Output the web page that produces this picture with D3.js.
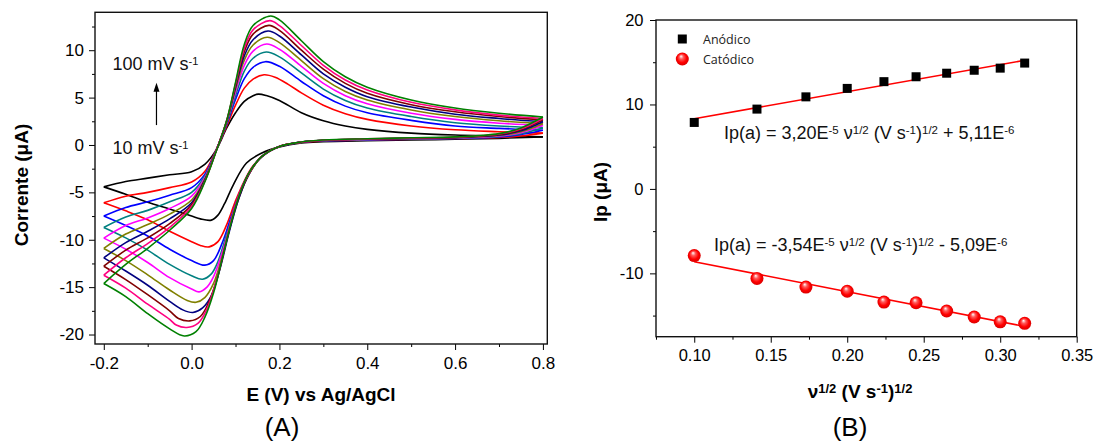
<!DOCTYPE html>
<html><head><meta charset="utf-8">
<script src="https://cdn.jsdelivr.net/npm/d3@7"></script>
<style>
html,body{margin:0;padding:0;background:#fff;}
svg{display:block;font-family:"Liberation Sans",Arial,sans-serif;}
text{white-space:pre;}
</style></head>
<body><svg id="c" width="1095" height="446"></svg>
<script>
// ---------- Panel A: cyclic voltammograms (E in V, I in µA) ----------
const scanRates = [10, 20, 30, 40, 50, 60, 70, 80, 90, 100];
const cvColors = ["#000000","#ff0000","#0000ff","#008080","#ff00ff","#808000","#000080","#800000","#ff0080","#008000"];

const cv10Fwd = [[-0.2,-4.42],[-0.15,-3.85],[-0.1,-3.5],[-0.05,-3.15],[0,-2.83],[0.03,-2.05],[0.055,-0.6],[0.08,1.8],[0.1,3.4],[0.12,4.6],[0.14,5.2],[0.152,5.37],[0.17,5.22],[0.2,4.7],[0.25,3.4],[0.3,2.55],[0.35,2.0],[0.4,1.65],[0.5,1.25],[0.6,1.05],[0.7,0.95],[0.8,0.85]];
const cv10Rev = [[0.8,0.85],[0.7,0.7],[0.6,0.6],[0.5,0.52],[0.4,0.45],[0.3,0.35],[0.25,0.22],[0.2,-0.2],[0.16,-0.85],[0.125,-1.9],[0.095,-4.2],[0.075,-6.2],[0.06,-7.4],[0.045,-7.93],[0.02,-7.8],[0,-7.5],[-0.05,-6.75],[-0.1,-6.05],[-0.15,-5.2],[-0.2,-4.42]];
const cv20Fwd = [[-0.2,-6.1],[-0.15,-5.4],[-0.1,-5.0],[-0.05,-4.5],[0,-3.9],[0.03,-2.8],[0.055,-0.6],[0.08,2.0],[0.1,4.2],[0.12,6.0],[0.14,6.95],[0.165,7.41],[0.19,7.15],[0.22,6.4],[0.25,5.5],[0.3,4.2],[0.35,3.3],[0.4,2.7],[0.5,2.0],[0.6,1.6],[0.7,1.4],[0.8,1.25]];
const cv20Rev = [[0.8,1.25],[0.75,0.95],[0.7,0.8],[0.6,0.68],[0.5,0.6],[0.4,0.52],[0.3,0.42],[0.25,0.28],[0.2,-0.15],[0.17,-0.85],[0.14,-2.2],[0.12,-3.8],[0.1,-5.9],[0.08,-8.4],[0.06,-10.2],[0.04,-10.75],[0.02,-10.6],[0,-10.2],[-0.05,-9.1],[-0.1,-7.9],[-0.15,-6.95],[-0.2,-6.1]];
const cv30Fwd = [[-0.2,-7.5],[-0.15,-6.6],[-0.1,-6.0],[-0.05,-5.3],[0,-4.5],[0.03,-3.1],[0.055,-0.65],[0.08,2.2],[0.1,4.8],[0.12,7.0],[0.14,8.2],[0.168,8.79],[0.2,8.3],[0.25,6.7],[0.3,5.2],[0.35,4.1],[0.4,3.4],[0.5,2.6],[0.6,2.0],[0.7,1.75],[0.8,1.55]];
const cv30Rev = [[0.8,1.55],[0.75,1.1],[0.7,0.85],[0.6,0.7],[0.5,0.62],[0.4,0.54],[0.3,0.44],[0.25,0.3],[0.2,-0.15],[0.16,-1.2],[0.13,-3.0],[0.11,-5.0],[0.09,-7.6],[0.07,-10.3],[0.05,-12.2],[0.03,-12.68],[0,-12.2],[-0.05,-11.0],[-0.1,-9.6],[-0.15,-8.5],[-0.2,-7.5]];
const cv40Fwd = [[-0.2,-8.7],[-0.15,-7.6],[-0.1,-6.9],[-0.05,-6.0],[0,-5.0],[0.03,-3.3],[0.055,-0.65],[0.08,2.3],[0.1,5.2],[0.12,7.8],[0.14,9.15],[0.17,9.81],[0.2,9.3],[0.25,7.6],[0.3,5.9],[0.35,4.7],[0.4,3.9],[0.5,3.0],[0.6,2.35],[0.7,2.0],[0.8,1.8]];
const cv40Rev = [[0.8,1.8],[0.75,1.2],[0.7,0.9],[0.6,0.72],[0.5,0.64],[0.4,0.56],[0.3,0.46],[0.25,0.3],[0.2,-0.15],[0.16,-1.2],[0.14,-2.3],[0.12,-4.0],[0.1,-6.4],[0.08,-9.4],[0.06,-12.3],[0.045,-13.6],[0.025,-14.16],[0,-13.8],[-0.05,-12.6],[-0.1,-11.1],[-0.15,-9.8],[-0.2,-8.7]];
const cv50Fwd = [[-0.2,-9.83],[-0.15,-8.5],[-0.1,-7.7],[-0.05,-6.7],[0,-5.4],[0.03,-3.45],[0.055,-0.7],[0.08,2.4],[0.1,5.6],[0.12,8.4],[0.14,9.9],[0.171,10.65],[0.2,10.1],[0.25,8.3],[0.3,6.5],[0.35,5.2],[0.4,4.35],[0.5,3.35],[0.6,2.7],[0.7,2.3],[0.8,2.05]];
const cv50Rev = [[0.8,2.05],[0.75,1.3],[0.7,0.95],[0.6,0.74],[0.5,0.66],[0.4,0.58],[0.3,0.47],[0.25,0.3],[0.2,-0.15],[0.16,-1.2],[0.13,-3.1],[0.11,-5.2],[0.09,-8.1],[0.07,-11.3],[0.05,-13.9],[0.035,-15.0],[0.017,-15.5],[0,-15.2],[-0.05,-14.0],[-0.1,-12.4],[-0.15,-11.0],[-0.2,-9.83]];
const cv60Fwd = [[-0.2,-10.92],[-0.15,-9.4],[-0.1,-8.4],[-0.05,-7.3],[0,-5.8],[0.03,-3.6],[0.055,-0.7],[0.08,2.45],[0.1,5.9],[0.12,8.95],[0.14,10.55],[0.172,11.36],[0.2,10.8],[0.25,8.9],[0.3,7.0],[0.35,5.65],[0.4,4.75],[0.5,3.7],[0.6,3.0],[0.7,2.55],[0.8,2.25]];
const cv60Rev = [[0.8,2.25],[0.75,1.4],[0.7,1.0],[0.6,0.76],[0.5,0.68],[0.4,0.6],[0.3,0.48],[0.25,0.3],[0.2,-0.15],[0.16,-1.2],[0.13,-3.15],[0.11,-5.3],[0.09,-8.3],[0.07,-11.7],[0.05,-14.6],[0.03,-16.1],[0.01,-16.6],[-0.01,-16.4],[-0.05,-15.3],[-0.1,-13.7],[-0.15,-12.2],[-0.2,-10.92]];
const cv70Fwd = [[-0.2,-11.91],[-0.15,-10.3],[-0.1,-9.1],[-0.05,-7.8],[0,-6.1],[0.03,-3.7],[0.055,-0.7],[0.08,2.5],[0.1,6.1],[0.12,9.4],[0.14,11.1],[0.174,12.02],[0.2,11.5],[0.25,9.5],[0.3,7.5],[0.35,6.1],[0.4,5.1],[0.5,4.0],[0.6,3.25],[0.7,2.8],[0.8,2.45]];
const cv70Rev = [[0.8,2.45],[0.75,1.5],[0.7,1.05],[0.6,0.78],[0.5,0.7],[0.4,0.62],[0.3,0.49],[0.25,0.3],[0.2,-0.15],[0.18,-0.6],[0.15,-1.7],[0.125,-3.6],[0.105,-6.0],[0.085,-9.3],[0.065,-13.0],[0.045,-15.9],[0.025,-17.2],[0.003,-17.68],[-0.02,-17.4],[-0.05,-16.5],[-0.1,-14.8],[-0.15,-13.3],[-0.2,-11.91]];
const cv80Fwd = [[-0.2,-12.79],[-0.15,-11.1],[-0.1,-9.8],[-0.05,-8.3],[0,-6.3],[0.03,-3.8],[0.055,-0.75],[0.08,2.55],[0.1,6.3],[0.12,9.85],[0.14,11.7],[0.176,12.62],[0.2,12.1],[0.25,10.0],[0.3,8.0],[0.35,6.5],[0.4,5.45],[0.5,4.25],[0.6,3.5],[0.7,3.0],[0.8,2.65]];
const cv80Rev = [[0.8,2.65],[0.75,1.6],[0.7,1.1],[0.6,0.8],[0.5,0.72],[0.4,0.63],[0.3,0.5],[0.25,0.3],[0.2,-0.15],[0.16,-1.2],[0.14,-2.3],[0.12,-4.0],[0.1,-6.5],[0.08,-10.0],[0.06,-13.8],[0.04,-16.5],[0.02,-18.1],[-0.004,-18.56],[-0.03,-18.3],[-0.05,-17.5],[-0.1,-15.8],[-0.15,-14.2],[-0.2,-12.79]];
const cv90Fwd = [[-0.2,-13.74],[-0.15,-11.9],[-0.1,-10.4],[-0.05,-8.7],[0,-6.5],[0.03,-3.85],[0.055,-0.75],[0.08,2.6],[0.1,6.45],[0.12,10.2],[0.14,12.15],[0.178,13.12],[0.2,12.6],[0.25,10.5],[0.3,8.4],[0.35,6.85],[0.4,5.8],[0.5,4.5],[0.6,3.7],[0.7,3.15],[0.8,2.8]];
const cv90Rev = [[0.8,2.8],[0.75,1.7],[0.7,1.15],[0.6,0.82],[0.5,0.74],[0.4,0.64],[0.3,0.5],[0.25,0.3],[0.2,-0.15],[0.16,-1.2],[0.14,-2.3],[0.115,-4.4],[0.095,-7.1],[0.075,-10.8],[0.055,-14.5],[0.035,-17.3],[0.015,-18.8],[-0.011,-19.26],[-0.035,-19.0],[-0.05,-18.4],[-0.1,-16.8],[-0.15,-15.1],[-0.2,-13.74]];
const cv100Fwd = [[-0.2,-14.62],[-0.15,-12.6],[-0.1,-10.9],[-0.05,-9.0],[0,-6.7],[0.03,-3.9],[0.055,-0.8],[0.08,2.6],[0.1,6.6],[0.12,10.6],[0.14,12.6],[0.18,13.61],[0.2,13.2],[0.25,11.0],[0.3,8.8],[0.35,7.2],[0.4,6.1],[0.5,4.75],[0.6,3.9],[0.7,3.35],[0.8,2.95]];
const cv100Rev = [[0.8,2.95],[0.75,1.8],[0.7,1.2],[0.6,0.85],[0.5,0.76],[0.4,0.66],[0.3,0.52],[0.25,0.32],[0.2,-0.15],[0.16,-1.2],[0.13,-3.0],[0.11,-5.1],[0.09,-8.2],[0.07,-11.9],[0.05,-15.6],[0.03,-18.2],[0.01,-19.7],[-0.017,-20.15],[-0.05,-19.4],[-0.1,-17.8],[-0.15,-16.0],[-0.2,-14.62]];

const cvForward = [cv10Fwd,cv20Fwd,cv30Fwd,cv40Fwd,cv50Fwd,cv60Fwd,cv70Fwd,cv80Fwd,cv90Fwd,cv100Fwd];
const cvReverse = [cv10Rev,cv20Rev,cv30Rev,cv40Rev,cv50Rev,cv60Rev,cv70Rev,cv80Rev,cv90Rev,cv100Rev];

const xTicksA = [-0.2, 0.0, 0.2, 0.4, 0.6, 0.8];
const xMinorA = [-0.1, 0.1, 0.3, 0.5, 0.7];
const yTicksA = [-20, -15, -10, -5, 0, 5, 10];
const yMinorA = [-17.5, -12.5, -7.5, -2.5, 2.5, 7.5, 12.5];

// ---------- Panel B: peak current vs sqrt(scan rate) ----------
const sqrtV = [0.100, 0.141, 0.173, 0.200, 0.224, 0.245, 0.265, 0.283, 0.300, 0.316];
const ipAnodic = [7.87, 9.45, 10.9, 11.9, 12.7, 13.28, 13.7, 14.05, 14.3, 14.9];
const ipCathodic = [-7.9, -10.6, -11.62, -12.12, -13.4, -13.48, -14.46, -15.17, -15.74, -15.92];
const fitAnodic = [[0.100, 8.31], [0.316, 15.23]];
const fitCathodic = [[0.100, -8.63], [0.316, -16.28]];
const xTicksB = [0.10, 0.15, 0.20, 0.25, 0.30, 0.35];
const xMinorB = [0.075, 0.125, 0.175, 0.225, 0.275, 0.325];
const yTicksB = [-10, 0, 10, 20];
const yMinorB = [-15, -5, 5, 15];
const legendLabels = ["Anódico", "Catódico"];

// ---------- drawing ----------
const svg = d3.select("#c");
const FONT = "'Liberation Sans', Arial, sans-serif";

const defs = svg.append("defs");
const grad = defs.append("radialGradient").attr("id","ball").attr("cx","50%").attr("cy","50%").attr("r","55%").attr("fx","40%").attr("fy","28%");
grad.append("stop").attr("offset","0%").attr("stop-color","#ffffff");
grad.append("stop").attr("offset","30%").attr("stop-color","#ff5a5a");
grad.append("stop").attr("offset","65%").attr("stop-color","#ff0000");
grad.append("stop").attr("offset","100%").attr("stop-color","#d00000");

function rich(t, parts, supSize) {
  let up = false;
  parts.forEach(([s, sup]) => {
    const ts = t.append("tspan").text(s);
    if (sup && !up) { ts.attr("font-size", supSize).attr("dy", "-0.42em"); up = true; }
    else if (sup && up) { ts.attr("font-size", supSize); }
    else if (!sup && up) { ts.attr("dy", (0.42*supSize) + "px"); up = false; }
  });
}

function styleAxis(g, fs) {
  g.select(".domain").remove();
  g.selectAll("line").attr("stroke", "#000").attr("stroke-width", 1);
  g.selectAll("text").attr("font-family", FONT).attr("font-size", fs).attr("fill", "#000");
}

// Panel A
const xA = d3.scaleLinear().domain([-0.22, 0.81]).range([95, 547.3]);
const yA = d3.scaleLinear().domain([-21, 14]).range([344, 12.3]);

const gA = svg.append("g");
const clipA = defs.append("clipPath").attr("id","clipA").append("rect")
  .attr("x", xA.range()[0]).attr("y", yA.range()[1]).attr("width", xA.range()[1]-xA.range()[0]).attr("height", yA.range()[0]-yA.range()[1]);

const lineA = d3.line().x(d => xA(d[0])).y(d => yA(d[1])).curve(d3.curveCatmullRom.alpha(0.5));
const curvesG = gA.append("g").attr("clip-path","url(#clipA)");
scanRates.forEach((r, i) => {
  [cvForward[i], cvReverse[i]].forEach(br => {
    curvesG.append("path").attr("d", lineA(br)).attr("fill","none")
      .attr("stroke", cvColors[i]).attr("stroke-width", 1.6).attr("stroke-linejoin","round");
  });
});

gA.append("g").attr("transform", `translate(0,${yA.range()[0]})`)
  .call(d3.axisBottom(xA).tickValues(xTicksA).tickFormat(d => d.toFixed(1)).tickSize(6).tickPadding(7))
  .call(g => styleAxis(g, 17));
gA.append("g").attr("transform", `translate(0,${yA.range()[0]})`)
  .call(d3.axisBottom(xA).tickValues(xMinorA).tickFormat("").tickSize(3))
  .call(g => styleAxis(g, 17));
gA.append("g").attr("transform", `translate(${xA.range()[0]},0)`)
  .call(d3.axisLeft(yA).tickValues(yTicksA).tickFormat(d => String(d)).tickSize(6).tickPadding(5))
  .call(g => styleAxis(g, 17));
gA.append("g").attr("transform", `translate(${xA.range()[0]},0)`)
  .call(d3.axisLeft(yA).tickValues(yMinorA).tickFormat("").tickSize(3))
  .call(g => styleAxis(g, 17));
gA.append("rect").attr("x", xA.range()[0]).attr("y", yA.range()[1])
  .attr("width", xA.range()[1]-xA.range()[0]).attr("height", yA.range()[0]-yA.range()[1])
  .attr("fill","none").attr("stroke","#111").attr("stroke-width",1.4);

// annotations A
const annA = [{x:-0.18, y:7.91, parts:[["100 mV s",0],["-1",1]]},{x:-0.18, y:-0.96, parts:[["10 mV s",0],["-1",1]]}];
annA.forEach(a => {
  const t = gA.append("text").attr("x", xA(a.x)).attr("y", yA(a.y)).attr("font-family", FONT).attr("font-size", 18).attr("fill","#111");
  rich(t, a.parts, 11);
});
const arrowA = {x:-0.08, y0:2.1, y1:6.57};
gA.append("line").attr("x1", xA(arrowA.x)).attr("x2", xA(arrowA.x)).attr("y1", yA(arrowA.y0)).attr("y2", yA(arrowA.y1)+7)
  .attr("stroke","#000").attr("stroke-width",1.2);
gA.append("path").attr("d", `M${xA(arrowA.x)},${yA(arrowA.y1)} l-3,9 l6,0 z`).attr("fill","#000");

gA.append("text").attr("x", 321).attr("y", 401).attr("text-anchor","middle")
  .attr("font-family", FONT).attr("font-weight","bold").attr("font-size", 19).text("E (V) vs Ag/AgCl");
gA.append("text").attr("transform","translate(28,185) rotate(-90)").attr("text-anchor","middle")
  .attr("font-family", FONT).attr("font-weight","bold").attr("font-size", 19).text("Corrente (μA)");
gA.append("text").attr("x", 282).attr("y", 436).attr("text-anchor","middle")
  .attr("font-family", FONT).attr("font-size", 26).text("(A)");

// Panel B
const xB = d3.scaleLinear().domain([0.075, 0.35]).range([656, 1076.7]);
const yB = d3.scaleLinear().domain([-17.5, 20]).range([336.7, 20]);
const gB = svg.append("g");

gB.append("g").attr("transform", `translate(0,${yB.range()[0]})`)
  .call(d3.axisBottom(xB).tickValues(xTicksB).tickFormat(d => d.toFixed(2)).tickSize(6).tickPadding(6.5))
  .call(g => styleAxis(g, 16.5));
gB.append("g").attr("transform", `translate(0,${yB.range()[0]})`)
  .call(d3.axisBottom(xB).tickValues(xMinorB).tickFormat("").tickSize(3))
  .call(g => styleAxis(g, 16.5));
gB.append("g").attr("transform", `translate(${xB.range()[0]},0)`)
  .call(d3.axisLeft(yB).tickValues(yTicksB).tickFormat(d => String(d)).tickSize(6).tickPadding(6.5))
  .call(g => styleAxis(g, 16.5));
gB.append("g").attr("transform", `translate(${xB.range()[0]},0)`)
  .call(d3.axisLeft(yB).tickValues(yMinorB).tickFormat("").tickSize(3))
  .call(g => styleAxis(g, 16.5));
gB.append("rect").attr("x", xB.range()[0]).attr("y", yB.range()[1])
  .attr("width", xB.range()[1]-xB.range()[0]).attr("height", yB.range()[0]-yB.range()[1])
  .attr("fill","none").attr("stroke","#111").attr("stroke-width",1.4);

const lineB = d3.line().x(d => xB(d[0])).y(d => yB(d[1]));
[fitAnodic, fitCathodic].forEach(f => gB.append("path").attr("d", lineB(f)).attr("fill","none").attr("stroke","#ff0000").attr("stroke-width",1.6));

const sq = 9;
gB.selectAll("rect.an").data(sqrtV.map((x,i)=>[x, ipAnodic[i]])).enter().append("rect").attr("class","an")
  .attr("x", d => xB(d[0]) - sq/2).attr("y", d => yB(d[1]) - sq/2).attr("width", sq).attr("height", sq).attr("fill","#000");
gB.selectAll("circle.ca").data(sqrtV.map((x,i)=>[x, ipCathodic[i]])).enter().append("circle").attr("class","ca")
  .attr("cx", d => xB(d[0])).attr("cy", d => yB(d[1])).attr("r", 6.5).attr("fill","url(#ball)");

// legend
const lg = gB.append("g").attr("font-family", "'Open Sans', 'Noto Sans', sans-serif").attr("font-size", 12.5).attr("fill","#222");
lg.append("rect").attr("x", 682.3 - 4.5).attr("y", 39 - 4.5).attr("width", 9).attr("height", 9).attr("fill","#000");
lg.append("circle").attr("cx", 682.3).attr("cy", 59).attr("r", 6.5).attr("fill","url(#ball)");
lg.append("text").attr("x", 703).attr("y", 43.5).text(legendLabels[0]);
lg.append("text").attr("x", 703).attr("y", 63.5).text(legendLabels[1]);

// equations
const eqs = [
  {x:0.1194, y:5.91, parts:[["Ip(a) = 3,20E",0],["-5",1],[" ν",0],["1/2",1],[" (V s",0],["-1",1],[")",0],["1/2",1],[" + 5,11E",0],["-6",1]]},
  {x:0.1129, y:-7.3, parts:[["Ip(a) = -3,54E",0],["-5",1],[" ν",0],["1/2",1],[" (V s",0],["-1",1],[")",0],["1/2",1],[" - 5,09E",0],["-6",1]]}
];
eqs.forEach(e => {
  const t = gB.append("text").attr("x", xB(e.x)).attr("y", yB(e.y)).attr("font-family", FONT).attr("font-size", 18).attr("fill","#111");
  rich(t, e.parts, 11.5);
});

const xt = gB.append("text").attr("x", 860).attr("y", 398).attr("text-anchor","middle")
  .attr("font-family", FONT).attr("font-weight","bold").attr("font-size", 19);
rich(xt, [["ν",0],["1/2",1],[" (V s",0],["-1",1],[")",0],["1/2",1]], 13);
gB.append("text").attr("transform","translate(607,192) rotate(-90)").attr("text-anchor","middle")
  .attr("font-family", FONT).attr("font-weight","bold").attr("font-size", 19).text("Ip (μA)");
gB.append("text").attr("x", 850).attr("y", 436).attr("text-anchor","middle")
  .attr("font-family", FONT).attr("font-size", 26).text("(B)");
</script></body></html>
